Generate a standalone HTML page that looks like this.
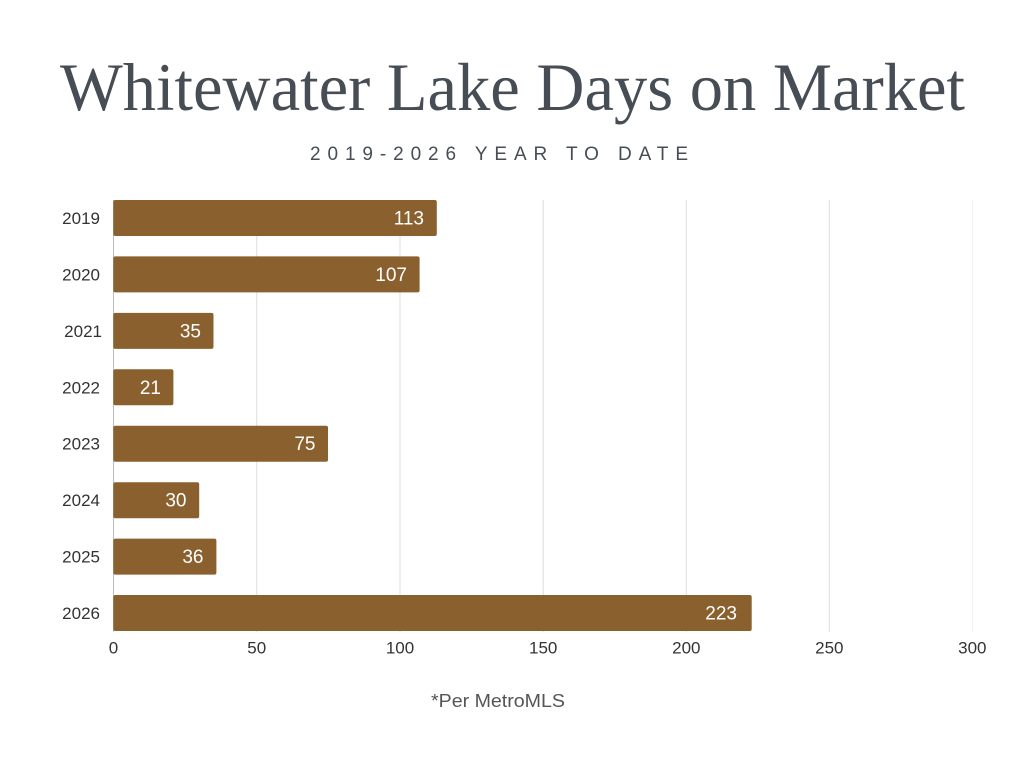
<!DOCTYPE html>
<html>
<head>
<meta charset="utf-8">
<style>
  html, body { margin:0; padding:0; background:#ffffff; }
  svg { display:block; }
</style>
</head>
<body>
<svg width="1024" height="768" viewBox="0 0 1024 768" xmlns="http://www.w3.org/2000/svg">
  <rect x="0" y="0" width="1024" height="768" fill="#ffffff"/>
  <!-- Title -->
  <text x="60" y="110" font-family="Liberation Serif, serif" font-size="68" fill="#474d55" textLength="905" lengthAdjust="spacingAndGlyphs">Whitewater Lake Days on Market</text>
  <text x="310" y="160" font-family="Liberation Sans, sans-serif" font-size="19" fill="#474d55" textLength="378" lengthAdjust="spacing">2019-2026 YEAR TO DATE</text>

  <!-- Gridlines -->
  <g stroke="#dddddd" stroke-width="1">
    <line x1="256.7" y1="200" x2="256.7" y2="632"/>
    <line x1="400" y1="200" x2="400" y2="632"/>
    <line x1="543.2" y1="200" x2="543.2" y2="632"/>
    <line x1="686.3" y1="200" x2="686.3" y2="632"/>
    <line x1="829.3" y1="200" x2="829.3" y2="632"/>
    <line x1="972.3" y1="200" x2="972.3" y2="632" stroke="#eeeeee"/>
  </g>
  <line x1="113.5" y1="200" x2="113.5" y2="632" stroke="#bbbbbb" stroke-width="1"/>

  <!-- Bars -->
  <g fill="#8a612e">
    <rect x="113.3" y="200" width="323.5" height="36" rx="2"/>
    <rect x="113.3" y="256.4" width="306.3" height="36" rx="2"/>
    <rect x="113.3" y="312.9" width="100.2" height="36" rx="2"/>
    <rect x="113.3" y="369.3" width="60.1" height="36" rx="2"/>
    <rect x="113.3" y="425.7" width="214.7" height="36" rx="2"/>
    <rect x="113.3" y="482.2" width="85.9" height="36" rx="2"/>
    <rect x="113.3" y="538.6" width="103.1" height="36" rx="2"/>
    <rect x="113.3" y="595" width="638.4" height="36" rx="2"/>
  </g>

  <!-- Value labels -->
  <g font-family="Liberation Sans, sans-serif" font-size="19" fill="#ffffff" text-anchor="end">
    <text x="424" y="224.5">113</text>
    <text x="407" y="280.9">107</text>
    <text x="201" y="337.4">35</text>
    <text x="161" y="393.8">21</text>
    <text x="315.5" y="450.2">75</text>
    <text x="186.5" y="506.7">30</text>
    <text x="203.5" y="563.1">36</text>
    <text x="737" y="619.5">223</text>
  </g>

  <!-- Category labels -->
  <g font-family="Liberation Sans, sans-serif" font-size="17" fill="#333333" text-anchor="end">
    <text x="100" y="224">2019</text>
    <text x="100" y="280.4">2020</text>
    <text x="102" y="336.9">2021</text>
    <text x="100" y="393.3">2022</text>
    <text x="100" y="449.7">2023</text>
    <text x="100" y="506.2">2024</text>
    <text x="100" y="562.6">2025</text>
    <text x="100" y="619">2026</text>
  </g>

  <!-- X axis labels -->
  <g font-family="Liberation Sans, sans-serif" font-size="17" fill="#333333" text-anchor="middle">
    <text x="113.5" y="653.5">0</text>
    <text x="256.7" y="653.5">50</text>
    <text x="400" y="653.5">100</text>
    <text x="543.2" y="653.5">150</text>
    <text x="686.3" y="653.5">200</text>
    <text x="829.3" y="653.5">250</text>
    <text x="972.3" y="653.5">300</text>
  </g>

  <!-- Footnote -->
  <text x="431" y="707" font-family="Liberation Sans, sans-serif" font-size="18.5" fill="#555555" textLength="134" lengthAdjust="spacingAndGlyphs">*Per MetroMLS</text>
</svg>
</body>
</html>
